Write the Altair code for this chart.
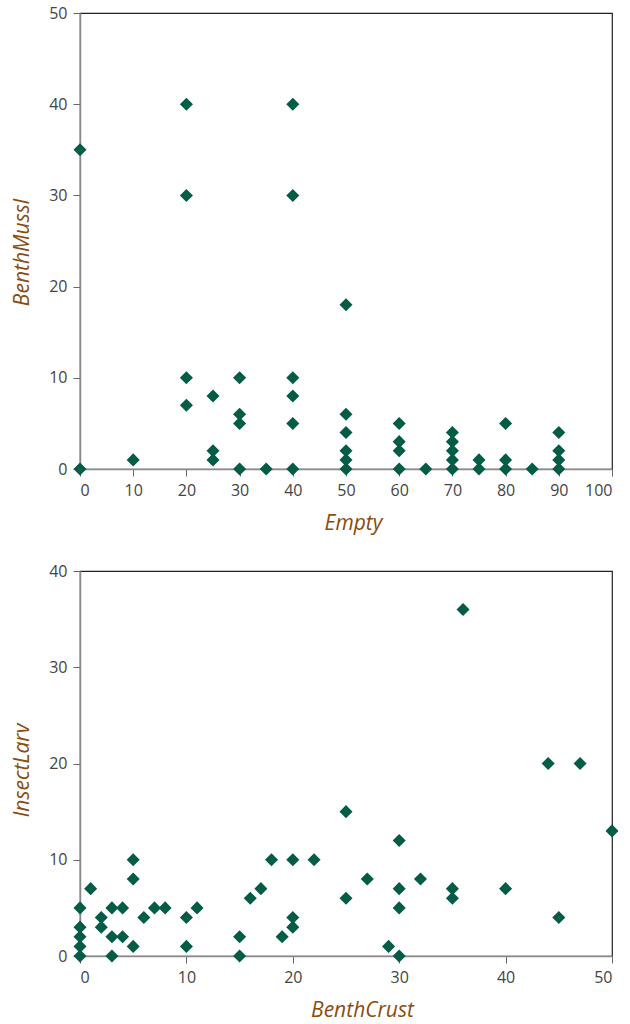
import altair as alt
import pandas as pd

# Top panel: Empty vs BenthMussl
empty = [0, 0, 10, 20, 20, 20, 20, 25, 25, 25, 30, 30, 30, 30, 35,
         40, 40, 40, 40, 40, 40, 50, 50, 50, 50, 50, 50, 60, 60, 60, 60, 65,
         70, 70, 70, 70, 70, 75, 75, 80, 80, 80, 85, 90, 90, 90, 90]
benth_mussl = [35, 0, 1, 40, 30, 10, 7, 8, 2, 1, 10, 6, 5, 0, 0,
               40, 30, 10, 8, 5, 0, 18, 6, 4, 2, 1, 0, 5, 3, 2, 0, 0,
               4, 3, 2, 1, 0, 1, 0, 5, 1, 0, 0, 4, 2, 1, 0]

# Bottom panel: BenthCrust vs InsectLarv
benth_crust = [0, 0, 0, 0, 0, 1, 2, 2, 3, 3, 3, 4, 4, 5, 5, 5, 6, 7, 8,
               10, 10, 11, 15, 15, 16, 17, 18, 19, 20, 20, 20, 22, 25, 25,
               27, 29, 30, 30, 30, 30, 32, 35, 35, 36, 40, 44, 45, 47, 50]
insect_larv = [0, 1, 2, 3, 5, 7, 4, 3, 5, 2, 0, 5, 2, 10, 8, 1, 4, 5, 5,
               4, 1, 5, 2, 0, 6, 7, 10, 2, 10, 4, 3, 10, 15, 6,
               8, 1, 12, 7, 5, 0, 8, 7, 6, 36, 7, 20, 4, 20, 13]

top_df = pd.DataFrame({"Empty": empty, "BenthMussl": benth_mussl})
bot_df = pd.DataFrame({"BenthCrust": benth_crust, "InsectLarv": insect_larv})

GREEN = "#045c46"
BROWN = "#8a4c0f"
FONT = "Open Sans"

def axis(values, orient, title_pos):
    kw = dict(
        values=values, grid=False, domainColor="#8a8a8a", domainWidth=1.5,
        tickColor="#666", tickSize=7, labelFontSize=16, labelColor="#444",
        labelFont=FONT, titleFont=FONT, titleFontSize=21, titleFontStyle="italic",
        titleFontWeight="normal", titleColor=BROWN,
        titlePadding=14 if orient == "x" else 16,
        labelPadding=6,
    )
    if orient == "x":
        kw["titleX"] = title_pos
    else:
        kw["titleY"] = title_pos
    return alt.Axis(**kw)

top = alt.Chart(top_df).mark_point(
    shape="diamond", filled=True, size=170, color=GREEN, opacity=1
).encode(
    x=alt.X("Empty:Q", scale=alt.Scale(domain=[0, 100], nice=False),
            axis=axis(list(range(0, 101, 10)), "x", 273)),
    y=alt.Y("BenthMussl:Q", scale=alt.Scale(domain=[0, 50], nice=False),
            axis=axis(list(range(0, 51, 10)), "y", 239)),
).properties(width=532, height=456)

bottom = alt.Chart(bot_df).mark_point(
    shape="diamond", filled=True, size=170, color=GREEN, opacity=1
).encode(
    x=alt.X("BenthCrust:Q", scale=alt.Scale(domain=[0, 50], nice=False),
            axis=axis(list(range(0, 51, 10)), "x", 282)),
    y=alt.Y("InsectLarv:Q", scale=alt.Scale(domain=[0, 40], nice=False),
            axis=axis(list(range(0, 41, 10)), "y", 199)),
).properties(width=532, height=385)

chart = alt.vconcat(top, bottom, spacing=28).properties(
    padding={"left": 11, "top": 4, "right": 2, "bottom": 2},
    background="white",
).configure_view(stroke="#222222", strokeWidth=1.2)

chart.save("out.html", embed_options={"renderer": "svg", "actions": False})
